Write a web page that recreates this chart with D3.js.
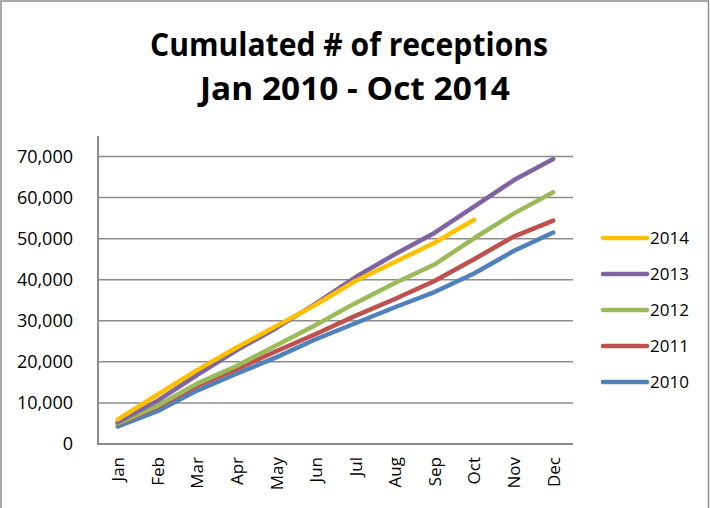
<!DOCTYPE html>
<html>
<head>
<meta charset="utf-8">
<script src="https://cdn.jsdelivr.net/npm/d3@7"></script>
<style>
  body { margin: 0; background: #fff; }
  svg { display: block; }
</style>
</head>
<body>
<svg id="chart" width="710" height="508"></svg>
<script>
// month categories and cumulated receptions per year
var months = ['Jan', 'Feb', 'Mar', 'Apr', 'May', 'Jun', 'Jul', 'Aug', 'Sep', 'Oct', 'Nov', 'Dec'];
var years = ['2014', '2013', '2012', '2011', '2010'];
var colors = ['#FFC000', '#8064A2', '#9BBB59', '#C0504D', '#4F81BD'];

var v2010 = [4300, 8000, 13000, 17100, 21100, 25500, 29400, 33300, 37000, 41500, 47000, 51500];
var v2011 = [4900, 9000, 14200, 18200, 22600, 26800, 31200, 35300, 39700, 45000, 50500, 54400];
var v2012 = [5000, 9300, 14700, 19000, 24000, 29000, 34300, 39200, 43700, 50100, 56100, 61300];
var v2013 = [5300, 10500, 16800, 22800, 28200, 34200, 40600, 46200, 51400, 57800, 64200, 69400];
var v2014 = [6000, 12000, 18000, 23500, 28700, 33900, 39700, 44300, 49000, 54600];

var series = [v2014, v2013, v2012, v2011, v2010];
var yTicks = [0, 10000, 20000, 30000, 40000, 50000, 60000, 70000];

var svg = d3.select('#chart');

// outer frame of the chart
svg.append('rect')
    .attr('x', 1).attr('y', 1)
    .attr('width', 707.5).attr('height', 520)
    .attr('fill', 'none')
    .attr('stroke', '#8c8c8c')
    .attr('stroke-width', 1.5);

// title
var title = svg.append('text')
    .attr('text-anchor', 'middle')
    .attr('font-family', 'Open Sans, sans-serif')
    .attr('font-weight', 'bold')
    .attr('font-size', 33)
    .attr('fill', '#000');
title.append('tspan').attr('x', 349).attr('y', 56)
    .attr('textLength', 398).attr('lengthAdjust', 'spacingAndGlyphs')
    .text('Cumulated # of receptions');
title.append('tspan').attr('x', 355).attr('y', 100)
    .attr('textLength', 310).attr('lengthAdjust', 'spacingAndGlyphs')
    .text('Jan 2010 - Oct 2014');

// plot area
var plotL = 98, plotR = 573, plotT = 136, plotB = 444;

var x = d3.scalePoint()
    .domain(months)
    .range([plotL, plotR])
    .padding(0.5);

var y = d3.scaleLinear()
    .domain([0, 75000])
    .range([plotB, plotT]);

// gridlines
svg.append('g')
    .selectAll('line')
    .data(yTicks.slice(1))
    .join('line')
    .attr('x1', plotL).attr('x2', plotR)
    .attr('y1', function (d) { return y(d); })
    .attr('y2', function (d) { return y(d); })
    .attr('stroke', '#8c8c8c')
    .attr('stroke-width', 1.5);

// y axis
var yAxis = svg.append('g')
    .attr('transform', 'translate(' + plotL + ',0)')
    .call(d3.axisLeft(y).tickValues(yTicks).tickFormat(d3.format(',')).tickSize(0).tickPadding(25));
yAxis.select('.domain').remove();
yAxis.selectAll('text')
    .attr('font-family', 'Open Sans, sans-serif')
    .attr('font-size', 18)
    .attr('fill', '#000');

svg.append('line')
    .attr('x1', plotL).attr('x2', plotL)
    .attr('y1', plotT).attr('y2', plotB + 1)
    .attr('stroke', '#8c8c8c')
    .attr('stroke-width', 2);

// x axis
var xAxis = svg.append('g')
    .attr('transform', 'translate(0,' + plotB + ')')
    .call(d3.axisBottom(x).tickSize(0));
xAxis.select('.domain').remove();
xAxis.selectAll('text')
    .attr('font-family', 'Open Sans, sans-serif')
    .attr('font-size', 17)
    .attr('fill', '#000')
    .attr('text-anchor', 'end')
    .attr('dy', '0.35em')
    .attr('transform', 'translate(0,13) rotate(-90)')
    .attr('x', 0).attr('y', 0);

svg.append('line')
    .attr('x1', plotL - 1).attr('x2', plotR)
    .attr('y1', plotB).attr('y2', plotB)
    .attr('stroke', '#8c8c8c')
    .attr('stroke-width', 2);

// lines, drawn from 2010 up so 2014 sits on top
var line = d3.line()
    .x(function (d, i) { return x(months[i]); })
    .y(function (d) { return y(d); });

svg.append('g')
    .selectAll('path')
    .data(series.map(function (s, i) { return { values: s, color: colors[i] }; }).reverse())
    .join('path')
    .attr('d', function (d) { return line(d.values); })
    .attr('fill', 'none')
    .attr('stroke', function (d) { return d.color; })
    .attr('stroke-width', 4.5)
    .attr('stroke-linecap', 'round')
    .attr('stroke-linejoin', 'round');

// legend
var legend = svg.append('g')
    .selectAll('g')
    .data(years)
    .join('g')
    .attr('transform', function (d, i) { return 'translate(603,' + (238 + i * 36) + ')'; });

legend.append('line')
    .attr('x1', 0).attr('x2', 44)
    .attr('stroke', function (d, i) { return colors[i]; })
    .attr('stroke-width', 4.5)
    .attr('stroke-linecap', 'round');

legend.append('text')
    .attr('x', 47)
    .attr('dy', '0.36em')
    .attr('font-family', 'Open Sans, sans-serif')
    .attr('font-size', 17)
    .attr('fill', '#000')
    .text(function (d) { return d; });
</script>
</body>
</html>
